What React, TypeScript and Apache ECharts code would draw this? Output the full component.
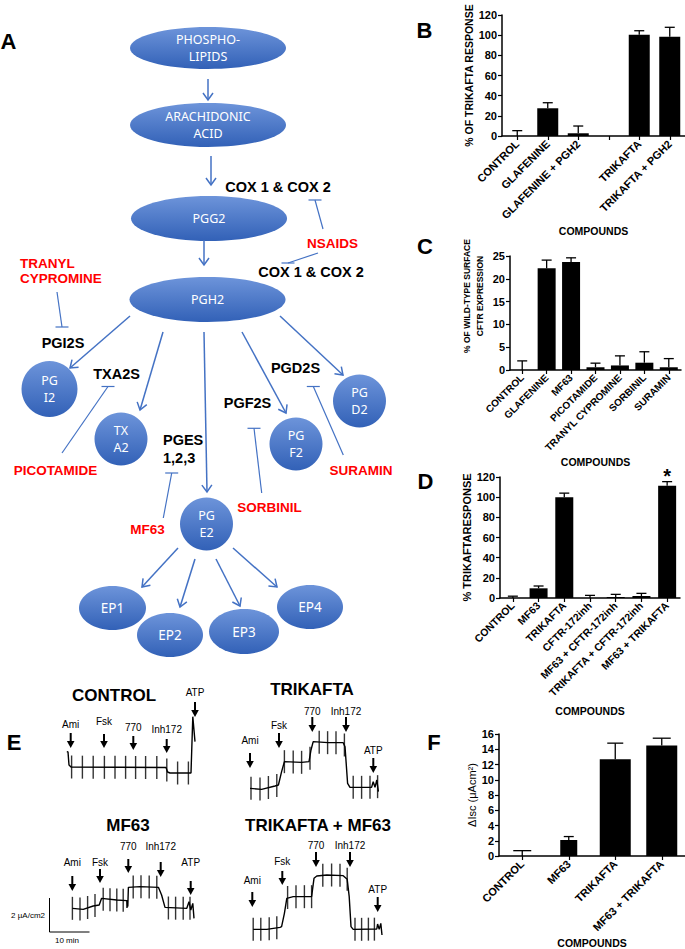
import React, { useEffect, useRef } from "react";
import * as echarts from "echarts";

// ---------------- DATA ----------------
// Panel B
const bCategories = ["CONTROL", "GLAFENINE", "GLAFENINE + PGH2", "", "TRIKAFTA", "TRIKAFTA + PGH2"];
const bValues: (number | null)[] = [0, 27.5, 2.7, null, 100.5, 98.5];
const bErrors: (number | null)[] = [5.3, 5.5, 7.2, null, 3.9, 9.3];

// Panel C
const cCategories = ["CONTROL", "GLAFENINE", "MF63", "PICOTAMIDE", "TRANYL CYPROMINE", "SORBINIL", "SURAMIN"];
const cValues = [0, 22.3, 23.7, 0.6, 1.0, 1.6, 0.6];
const cErrors = [2.0, 1.8, 0.9, 0.9, 2.1, 2.4, 1.9];

// Panel D
const dCategories = ["CONTROL", "MF63", "TRIKAFTA", "CFTR-172inh", "MF63 + CFTR-172inh", "TRIKAFTA + CFTR-172inh", "MF63 + TRIKAFTA"];
const dValues = [0, 9.6, 100, 0, 1, 2, 111.4];
const dErrors = [1.8, 2.3, 4, 2.6, 2.6, 2.6, 4];
const dMarks = ["", "", "", "", "", "", "*"];

// Panel F
const fCategories = ["CONTROL", "MF63", "TRIKAFTA", "MF63 + TRIKAFTA"];
const fValues = [0, 2.1, 12.7, 14.5];
const fErrors = [0.7, 0.45, 2.1, 0.95];

// Panel E traces: [time (min), current (uA/cm2)]
const controlTrace = [[1.7, 2.3], [2.0, 2.28], [2.25, 1.5], [2.75, 1.38], [26.5, 1.35], [26.9, 1.08], [27.5, 1.02], [32.75, 1.02], [33.2, 4.4], [33.75, 2.9]];
const controlPulses = [[2.9, 1.38], [5.6, 1.37], [8.3, 1.37], [11.1, 1.36], [13.75, 1.36], [16.4, 1.36], [18.9, 1.35], [21.4, 1.35], [24.2, 1.35], [26.7, 1.2], [29.4, 1.02], [32.1, 1.02]];
const trikaftaTrace = [[2.5, 0.7], [5.4, 0.64], [8.75, 0.84], [9.6, 0.9], [10.4, 1.7], [11.1, 2.3], [15.4, 2.26], [17.25, 2.3], [17.75, 3.0], [18.3, 3.5], [22.0, 3.44], [25.8, 3.44], [26.25, 3.2], [26.9, 1.0], [27.5, 0.76], [32.9, 0.76], [33.3, 1.1], [33.75, 0.76], [34.2, 1.2], [34.6, 0.5]];
const trikaftaPulses = [[2.75, 0.7], [5.0, 0.66], [7.1, 0.75], [9.2, 0.87], [11.1, 2.3], [13.3, 2.28], [15.4, 2.26], [17.5, 2.5], [19.8, 3.47], [21.9, 3.44], [24.0, 3.44], [26.1, 3.3], [28.3, 0.76], [30.4, 0.76], [32.5, 0.76], [34.4, 0.8]];
const mf63Trace = [[3.1, 1.3], [5.8, 1.24], [8.3, 1.44], [9.8, 1.5], [10.4, 1.9], [14.2, 1.8], [16.7, 1.76], [16.75, 1.32], [16.85, 1.8], [16.95, 1.4], [17.1, 2.56], [20.0, 2.6], [24.6, 2.56], [25.4, 2.1], [26.25, 1.36], [31.7, 1.3], [32.25, 1.7], [32.7, 1.2], [33.2, 1.6], [33.5, 0.7]];
const mf63Pulses = [[3.1, 1.3], [5.0, 1.26], [6.9, 1.35], [8.75, 1.47], [10.8, 1.85], [12.5, 1.82], [14.2, 1.8], [15.8, 1.78], [18.3, 2.58], [20.25, 2.6], [22.3, 2.58], [24.2, 2.56], [27.1, 1.32], [28.9, 1.31], [30.8, 1.3], [32.5, 1.3]];
const comboTrace = [[3.3, 0.64], [6.7, 0.64], [10.0, 0.76], [10.4, 0.8], [11.1, 1.6], [11.7, 2.5], [13.3, 2.6], [17.9, 2.6], [18.5, 3.7], [19.2, 3.84], [21.7, 3.9], [25.8, 3.86], [26.8, 3.64], [27.3, 2.6], [27.75, 0.8], [28.3, 0.64], [34.2, 0.66], [34.4, 0.96], [34.8, 0.64], [35.2, 1.0], [35.5, 0.3]];
const comboPulses = [[3.3, 0.64], [5.2, 0.64], [7.3, 0.68], [9.2, 0.74], [11.9, 2.55], [14.0, 2.6], [16.1, 2.6], [17.9, 2.6], [20.7, 3.88], [22.9, 3.9], [25.0, 3.88], [26.8, 3.64], [28.75, 0.64], [30.4, 0.64], [32.1, 0.65], [33.6, 0.65]];
const traceTitles = ["CONTROL", "TRIKAFTA", "MF63", "TRIKAFTA + MF63"];
const agentLabels = ["Ami", "Fsk", "770", "Inh172", "ATP"];

// Panel A labels
const pathwayLabels = ["PHOSPHO-\nLIPIDS", "ARACHIDONIC\nACID", "PGG2", "PGH2"];
const prostanoidLabels = ["PG\nI2", "TX\nA2", "PG\nE2", "PG\nF2", "PG\nD2"];
const receptorLabels = ["EP1", "EP2", "EP3", "EP4"];
const enzymeLabels = ["COX 1 & COX 2", "COX 1 & COX 2", "PGI2S", "TXA2S", "PGES\n1,2,3", "PGF2S", "PGD2S"];
const inhibitorLabels = ["NSAIDS", "TRANYL\nCYPROMINE", "PICOTAMIDE", "MF63", "SORBINIL", "SURAMIN"];
const panelLetters = ["A", "B", "C", "D", "E", "F"];

// ---------------- LAYOUT ----------------
const FONT = '"Liberation Sans", Arial, Helvetica, sans-serif';
const WFONT = '"Noto Sans", "Open Sans", sans-serif';
const BLUE = "#4472c4";
const GRAD = {
  type: "linear", x: 0, y: 0, x2: 0, y2: 1,
  colorStops: [{ offset: 0, color: "#6d94da" }, { offset: 1, color: "#3261b7" }],
};

const pathwayPos = [
  { cx: 208, cy: 48, rx: 78, ry: 21 },
  { cx: 208, cy: 125, rx: 78, ry: 22 },
  { cx: 209, cy: 218.5, rx: 78, ry: 22.5 },
  { cx: 207.5, cy: 299.5, rx: 78, ry: 22.5 },
];
const prostanoidPos = [
  { cx: 49.5, cy: 389, r: 28 },
  { cx: 121, cy: 439, r: 26.5 },
  { cx: 206.5, cy: 524, r: 26.5 },
  { cx: 296, cy: 444, r: 26.5 },
  { cx: 359.5, cy: 401, r: 26.5 },
];
const receptorPos = [
  { cx: 112.5, cy: 608, rx: 33.5, ry: 22 },
  { cx: 170, cy: 635, rx: 33, ry: 22 },
  { cx: 244, cy: 631.5, rx: 35, ry: 22.5 },
  { cx: 310, cy: 607, rx: 33, ry: 22 },
];
const enzymePos = [
  { x: 278, y: 187, align: "center" },
  { x: 311, y: 272, align: "center" },
  { x: 63, y: 343, align: "center" },
  { x: 116.5, y: 374, align: "center" },
  { x: 163, y: 449, align: "left" },
  { x: 247.5, y: 403, align: "center" },
  { x: 295.5, y: 368, align: "center" },
];
const inhibitorPos = [
  { x: 332.5, y: 243, align: "center" },
  { x: 20, y: 270.5, align: "left" },
  { x: 55.5, y: 470, align: "center" },
  { x: 147.5, y: 529, align: "center" },
  { x: 269.5, y: 507, align: "center" },
  { x: 361, y: 470, align: "center" },
];
const arrowsA = [
  [208, 79, 208, 100], [211, 156, 211, 185], [204, 240, 204, 265],
  [130, 316, 70, 368], [163, 332, 140, 410], [204, 332, 207, 492], [242, 332, 286, 413], [280, 316, 343, 375],
  [178, 548, 142, 587], [195, 559, 180, 607], [216, 559, 240, 606], [233, 548, 277, 587],
];
const inhibA = [
  [323, 229, 315, 200], [318, 253, 288, 263], [57, 292, 62, 327], [62, 453, 108, 386.5],
  [163.3, 518, 171.7, 473], [261.7, 493, 254, 428.3], [343.3, 455, 313.3, 386.5],
];
const letterPos = [[8.5, 41], [424.5, 30], [425, 246], [425.5, 481], [14, 742], [434, 742]];

const traceGrids = [
  { left: 60, top: 680 }, { left: 240, top: 690 }, { left: 60, top: 820 }, { left: 240, top: 830 },
];
const titlePos = [[114, 695], [312, 689], [128, 825], [318, 825]];
// per trace: [x, arrowTop, arrowTip, labelY] for Ami, Fsk, 770, Inh172, ATP
const agentPos = [
  [[70.7, 733, 748, 724], [104, 734, 748, 721.5], [133.3, 736, 750, 727], [166.7, 739, 753, 729], [195, 702, 717, 692.5]],
  [[250, 753, 768, 740], [279, 733, 748, 725], [312.3, 717, 732, 711.5], [346, 717, 732, 711.5], [373.3, 758, 773, 750.5]],
  [[72.3, 876, 891, 862.5], [100, 869, 883, 862.5], [128.3, 859, 873, 846], [160.7, 862, 877, 846], [190.7, 881, 895, 862.5]],
  [[252.3, 892, 907, 880], [282.3, 871, 885, 861.5], [316, 852, 867, 845], [350, 852, 867, 845], [377.7, 897, 912, 889]],
];

// ---------------- HELPERS ----------------
function text(x: number, y: number, s: string, size: number, o: any = {}) {
  const align = o.align || "center";
  return {
    type: "text", x, y, z: 30, silent: true,
    style: {
      text: s, fill: o.color || "#000",
      font: `${o.weight || "bold"} ${size}px ${o.family || FONT}`,
      textAlign: align, align, textVerticalAlign: "middle", verticalAlign: "middle",
      lineHeight: o.lh || Math.round(size * 1.2),
    },
  };
}
function blueArrow(x1: number, y1: number, x2: number, y2: number) {
  const a = Math.atan2(y2 - y1, x2 - x1);
  const L = 7, Wd = 5;
  const c = Math.cos(a), s = Math.sin(a);
  const bx = x2 - L * c, by = y2 - L * s;
  return [
    { type: "line", z: 25, silent: true, shape: { x1, y1, x2, y2 }, style: { stroke: BLUE, lineWidth: 1.5 } },
    { type: "polyline", z: 25, silent: true, shape: { points: [[bx - s * Wd, by + c * Wd], [x2, y2], [bx + s * Wd, by - c * Wd]] }, style: { stroke: BLUE, lineWidth: 1.5, fill: null } },
  ];
}
function inhibitor(x1: number, y1: number, x2: number, y2: number) {
  return [
    { type: "line", z: 25, silent: true, shape: { x1, y1, x2, y2 }, style: { stroke: BLUE, lineWidth: 1.2 } },
    { type: "line", z: 25, silent: true, shape: { x1: x2 - 6.5, y1: y2, x2: x2 + 6.5, y2 }, style: { stroke: BLUE, lineWidth: 1.2 } },
  ];
}
function blackArrow(x: number, y1: number, y2: number) {
  return [
    { type: "line", z: 25, silent: true, shape: { x1: x, y1, x2: x, y2: y2 - 5 }, style: { stroke: "#000", lineWidth: 2 } },
    { type: "polygon", z: 25, silent: true, shape: { points: [[x - 3.8, y2 - 7], [x + 3.8, y2 - 7], [x, y2]] }, style: { fill: "#000" } },
  ];
}

function buildOption() {
  const grid: any[] = [];
  const xAxis: any[] = [];
  const yAxis: any[] = [];
  const series: any[] = [];

  const catAxis = (gi: number, cats: string[], labelSize: number, nameGap: number) => ({
    type: "category", gridIndex: gi, data: cats,
    axisLine: { show: true, lineStyle: { color: "#000", width: 1.5 } },
    axisTick: { show: true, alignWithLabel: true, length: 4, lineStyle: { color: "#000", width: 1.2 } },
    axisLabel: { interval: 0, rotate: 45, margin: 6, color: "#000", fontFamily: FONT, fontWeight: "bold", fontSize: labelSize },
    name: "COMPOUNDS", nameLocation: "middle", nameGap,
    nameTextStyle: { color: "#000", fontFamily: FONT, fontWeight: "bold", fontSize: 10.5 },
    splitLine: { show: false },
  });
  const valAxis = (gi: number, max: number, interval: number, name: string, nameGap: number, nameSize: number, nameWeight: string, extra: any = {}) => ({
    type: "value", gridIndex: gi, min: 0, max, interval,
    axisLine: { show: true, lineStyle: { color: "#000", width: 1.5 } },
    axisTick: { show: true, length: 4, lineStyle: { color: "#000", width: 1.2 } },
    axisLabel: { margin: 5, color: "#000", fontFamily: FONT, fontWeight: "bold", fontSize: 11 },
    splitLine: { show: false },
    name, nameLocation: "middle", nameRotate: 90, nameGap,
    nameTextStyle: { color: "#000", fontFamily: FONT, fontWeight: nameWeight, fontSize: nameSize, ...extra },
  });
  const errSeries = (xi: number, yi: number, vals: (number | null)[], errs: (number | null)[], cap: number | number[], marks?: string[]) => ({
    type: "custom", xAxisIndex: xi, yAxisIndex: yi, z: 5, silent: true,
    data: vals.map((v, i) => (v == null ? null : [i, v, errs[i]])).filter((d) => d),
    encode: { x: 0, y: 1 },
    renderItem: (params: any, api: any) => {
      const i = api.value(0), v = api.value(1), e = api.value(2);
      const a = api.coord([i, v]);
      const b = api.coord([i, v + e]);
      const cw = Array.isArray(cap) ? cap[i] : cap;
      const style = { stroke: "#000", lineWidth: 1.3 };
      const children: any[] = [
        { type: "line", shape: { x1: a[0], y1: a[1], x2: b[0], y2: b[1] }, style },
        { type: "line", shape: { x1: b[0] - cw / 2, y1: b[1], x2: b[0] + cw / 2, y2: b[1] }, style },
      ];
      if (marks && marks[i]) {
        children.push({ type: "text", x: b[0], y: b[1] - 6, style: { text: marks[i], fill: "#000", font: `bold 20px ${FONT}`, textAlign: "center", align: "center", textVerticalAlign: "middle", verticalAlign: "middle" } });
      }
      return { type: "group", children };
    },
  });

  // B
  grid.push({ left: 502, top: 15, width: 183, height: 121 });
  xAxis.push(catAxis(0, bCategories, 11, 89));
  yAxis.push(valAxis(0, 120, 20, "% OF TRIKAFTA RESPONSE", 28, 10.5, "bold"));
  series.push({ type: "bar", xAxisIndex: 0, yAxisIndex: 0, data: bValues, barWidth: 21, itemStyle: { color: "#000" }, z: 4 });
  series.push(errSeries(0, 0, bValues, bErrors, 10));

  // C
  grid.push({ left: 510, top: 256, width: 171, height: 114 });
  xAxis.push(catAxis(1, cCategories, 10, 82));
  yAxis.push(valAxis(1, 25, 5, "% OF WILD-TYPE SURFACE\nCFTR EXPRESSION", 24, 8.5, "bold", { lineHeight: 13, padding: [0, 0, 0, 34] }));
  series.push({ type: "bar", xAxisIndex: 1, yAxisIndex: 1, data: cValues, barWidth: 18, itemStyle: { color: "#000" }, z: 4 });
  series.push(errSeries(1, 1, cValues, cErrors, 10));

  // D
  grid.push({ left: 500, top: 477, width: 180, height: 121 });
  xAxis.push(catAxis(2, dCategories, 10.5, 107));
  yAxis.push(valAxis(2, 120, 20, "% TRIKAFTARESPONSE", 25, 11, "bold"));
  series.push({ type: "bar", xAxisIndex: 2, yAxisIndex: 2, data: dValues, barWidth: 18, itemStyle: { color: "#000" }, z: 4 });
  series.push(errSeries(2, 2, dValues, dErrors, 10, dMarks));

  // F
  grid.push({ left: 499, top: 734, width: 186, height: 125 });
  xAxis.push(catAxis(3, fCategories, 11, 81));
  yAxis.push(valAxis(3, 16, 2, "\u0394Isc (\u03bcAcm\u00b2)", 22, 11, "normal"));
  xAxis.push({ type: "category", gridIndex: 3, data: fCategories, show: false });
  const fWide = fValues.map((v, i) => (i === 1 ? null : v));
  const fNarrow = fValues.map((v, i) => (i === 1 ? v : null));
  series.push({ type: "bar", xAxisIndex: 3, yAxisIndex: 3, data: fWide, barWidth: 31, itemStyle: { color: "#000" }, z: 4 });
  series.push({ type: "bar", xAxisIndex: 4, yAxisIndex: 3, data: fNarrow, barWidth: 17, itemStyle: { color: "#000" }, z: 4 });
  series.push(errSeries(3, 3, fValues, fErrors, [18, 10, 16, 18]));

  // E traces
  const traces = [controlTrace, trikaftaTrace, mf63Trace, comboTrace];
  const pulses = [controlPulses, trikaftaPulses, mf63Pulses, comboPulses];
  traces.forEach((tr, k) => {
    const gi = 4 + k;
    grid.push({ left: traceGrids[k].left, top: traceGrids[k].top, width: 150, height: 110 });
    xAxis.push({ type: "value", gridIndex: gi, min: 0, max: 37.5, show: false });
    yAxis.push({ type: "value", gridIndex: gi, min: 0, max: 6.6, show: false });
    series.push({ type: "line", xAxisIndex: 5 + k, yAxisIndex: gi, data: tr, symbol: "none", lineStyle: { color: "#000", width: 1.4 }, z: 5, silent: true });
    series.push({ type: "scatter", xAxisIndex: 5 + k, yAxisIndex: gi, data: pulses[k], symbol: "rect", symbolSize: [1.4, 23], itemStyle: { color: "#000" }, z: 5, silent: true });
  });

  // graphic
  const els: any[] = [];
  panelLetters.forEach((l, i) => els.push(text(letterPos[i][0], letterPos[i][1], l, 22)));
  arrowsA.forEach((a) => els.push(...blueArrow(a[0], a[1], a[2], a[3])));
  inhibA.forEach((a) => els.push(...inhibitor(a[0], a[1], a[2], a[3])));
  pathwayLabels.forEach((l, i) => {
    const p = pathwayPos[i];
    els.push({ type: "ellipse", z: 20, silent: true, shape: { cx: p.cx, cy: p.cy, rx: p.rx, ry: p.ry }, style: { fill: GRAD } });
    els.push(text(p.cx, p.cy, l, 12.5, { color: "#fff", weight: "normal", family: WFONT, lh: 17 }));
  });
  prostanoidLabels.forEach((l, i) => {
    const p = prostanoidPos[i];
    els.push({ type: "circle", z: 20, silent: true, shape: { cx: p.cx, cy: p.cy, r: p.r }, style: { fill: GRAD } });
    els.push(text(p.cx, p.cy, l, 12.5, { color: "#fff", weight: "normal", family: WFONT, lh: 17 }));
  });
  receptorLabels.forEach((l, i) => {
    const p = receptorPos[i];
    els.push({ type: "ellipse", z: 20, silent: true, shape: { cx: p.cx, cy: p.cy, rx: p.rx, ry: p.ry }, style: { fill: GRAD } });
    els.push(text(p.cx, p.cy, l, 13.5, { color: "#fff", weight: "normal", family: WFONT }));
  });
  enzymeLabels.forEach((l, i) => {
    const p = enzymePos[i];
    els.push(text(p.x, p.y, l, 14.5, { align: p.align, lh: 18 }));
  });
  inhibitorLabels.forEach((l, i) => {
    const p = inhibitorPos[i];
    els.push(text(p.x, p.y, l, 13.5, { align: p.align, color: "#ff0000", lh: 15 }));
  });

  // E annotations
  traceTitles.forEach((t, k) => {
    els.push(text(titlePos[k][0], titlePos[k][1], t, 17));
    agentPos[k].forEach((a, j) => {
      els.push(...blackArrow(a[0], a[1], a[2]));
      els.push(text(a[0], a[3], agentLabels[j], 10, { weight: "normal" }));
    });
  });
  // scale bar
  els.push({ type: "polyline", z: 25, silent: true, shape: { points: [[49.5, 898], [49.5, 932], [89.5, 932]] }, style: { stroke: "#000", lineWidth: 1, fill: null } });
  els.push(text(45, 915, "2 \u00b5A/cm2", 8, { weight: "normal", align: "right" }));
  els.push(text(67, 940, "10 min", 8, { weight: "normal" }));

  return {
    animation: false,
    backgroundColor: "#fff",
    grid, xAxis, yAxis, series,
    graphic: { elements: els },
  };
}

export default function App() {
  const ref = useRef<HTMLDivElement>(null);
  useEffect(() => {
    const chart = echarts.init(ref.current as HTMLDivElement, null, { renderer: "svg" });
    chart.setOption(buildOption() as any);
    return () => chart.dispose();
  }, []);
  return (
    <div
      ref={ref}
      style={{ position: "fixed", left: 0, top: 0, width: 685, height: 949, background: "#fff" }}
    />
  );
}
